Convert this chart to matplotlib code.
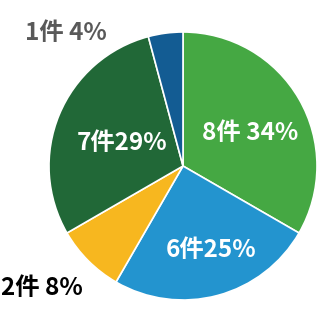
import matplotlib.pyplot as plt

plt.rcParams['font.family'] = ['Noto Sans CJK TC', 'DejaVu Sans']

# 件数
counts = [8, 6, 2, 7, 1]
labels = ["8件 34%", "6件25%", "2件 8%", "7件29%", "1件 4%"]
colors = ["#45a843", "#2394cf", "#f7b71f", "#216837", "#135c93"]

fig = plt.figure(figsize=(3.2, 3.2), dpi=100)
ax = fig.add_axes([0, 0, 1, 1])

ax.pie(
    counts,
    colors=colors,
    startangle=90,
    counterclock=False,
    center=(183, 154),
    radius=134,
    wedgeprops={"edgecolor": "white", "linewidth": 1.2},
    frame=True,
)
ax.set_xlim(0, 320)
ax.set_ylim(0, 320)
ax.set_aspect("equal")
ax.axis("off")

# ラベル位置 (画像座標)
label_pos = [(250, 133), (211, 250), (42, 288), (122, 143), (66, 33)]
label_colors = ["white", "white", "black", "white", "#595959"]

for text, (x, y), c in zip(labels, label_pos, label_colors):
    ax.text(x, 320 - y, text, color=c, fontsize=17.5, fontweight="bold",
            ha="center", va="center")

plt.savefig("out.png", dpi=100)
